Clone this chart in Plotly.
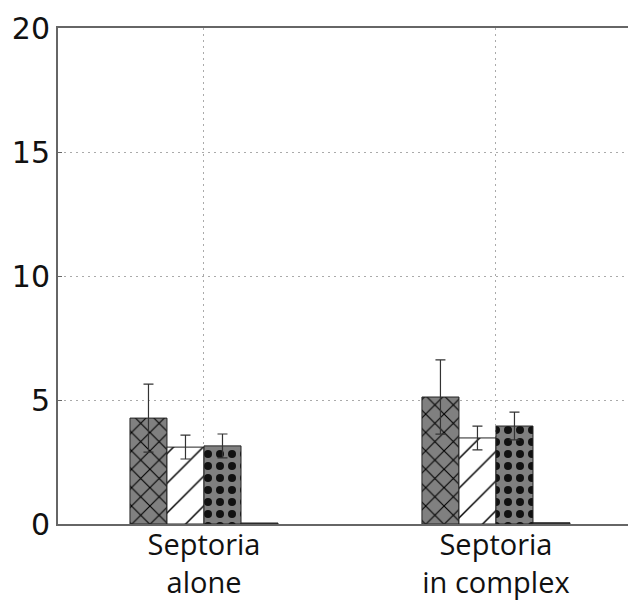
import plotly.graph_objects as go

categories = ["Septoria<br>alone", "Septoria<br>in complex"]

series_a = [4.27, 5.12]
series_a_err = [1.37, 1.5]
series_b = [3.1, 3.47]
series_b_err = [0.48, 0.48]
series_c = [3.15, 3.95]
series_c_err = [0.48, 0.56]
series_d = [0.04, 0.05]

y_ticks = [0, 5, 10, 15, 20]

x_pos = list(range(len(categories)))

# (values, errors, fill, pattern shape, pattern colour, pattern size, solidity)
styles = [
    (series_a, series_a_err, "#808080", "x", "#000000", 13, 0.16),
    (series_b, series_b_err, "#ffffff", "/", "#000000", 21, 0.07),
    (series_c, series_c_err, "#808080", ".", "#111111", 12, 0.35),
    (series_d, None, "#444444", "", "#111111", 10, 0.2),
]

fig = go.Figure()
for vals, errs, fill, shape, fg, size, solid in styles:
    fig.add_trace(
        go.Bar(
            x=x_pos,
            y=vals,
            marker=dict(
                color=fill,
                line=dict(color="#222222", width=1),
                pattern=dict(
                    shape=shape, fgcolor=fg, fgopacity=1, bgcolor=fill, size=size, solidity=solid
                )
                if shape
                else None,
            ),
            error_y=dict(type="data", array=errs, color="#333333", thickness=1.2, width=5)
            if errs
            else None,
            showlegend=False,
        )
    )

# the page body has an 8px margin, so the plot box is pulled back by that much
fig.update_layout(
    width=636,
    height=605,
    margin=dict(l=50, r=0, t=20, b=89),
    barmode="group",
    bargap=0.493,
    bargroupgap=0,
    plot_bgcolor="white",
    paper_bgcolor="white",
    font=dict(family="DejaVu Sans", color="#111111"),
)
fig.update_xaxes(
    range=[-0.5, 1.507],
    tickvals=x_pos,
    ticktext=categories,
    tickfont=dict(size=29, family="Open Sans"),
    ticklabelstandoff=-6,
    showgrid=True,
    gridcolor="#aaaaaa",
    griddash="2px,4px",
    gridwidth=1,
    showline=True,
    linecolor="#666666",
    linewidth=2,
    mirror=True,
    ticks="",
    zeroline=False,
)
fig.update_yaxes(
    range=[0, 20],
    tickvals=y_ticks,
    tickfont=dict(size=30),
    showgrid=True,
    gridcolor="#aaaaaa",
    griddash="2px,4px",
    gridwidth=1,
    showline=True,
    linecolor="#666666",
    linewidth=2,
    ticks="inside",
    ticklen=4,
    tickcolor="#666666",
    zeroline=False,
)

fig.write_html("out.html")
